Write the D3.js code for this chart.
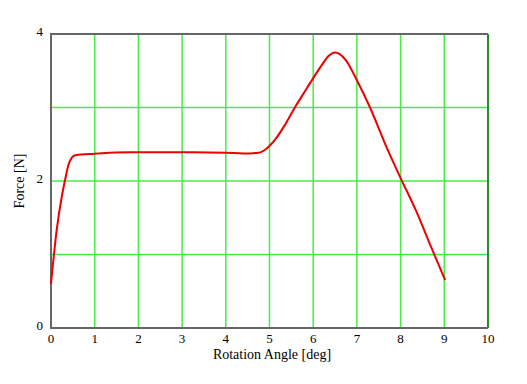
<!DOCTYPE html>
<html><head><meta charset="utf-8">
<script src="https://cdn.jsdelivr.net/npm/d3@7"></script>
<style>body{margin:0;background:#fff}svg{display:block}</style>
</head><body>
<svg id="c" width="527" height="384"></svg>
<script>
const angle = [0,0.13,0.25,0.32,0.40,0.48,0.56,1.0,1.8,3.0,4.0,4.4,4.75,4.95,5.15,5.35,5.55,5.8,6.0,6.2,6.35,6.5,6.6,6.75,7.0,7.3,7.7,8.0,8.35,8.7,9.02];
const force = [0.6,1.33,1.8,2.01,2.22,2.32,2.35,2.37,2.39,2.39,2.385,2.375,2.385,2.45,2.58,2.76,2.97,3.21,3.40,3.58,3.70,3.75,3.73,3.64,3.37,3.0,2.43,2.04,1.6,1.1,0.65];
const xTicks = [0,1,2,3,4,5,6,7,8,9,10];
const yTicks = [0,2,4];
const yGrid = [1,2,3];
const xLabel = "Rotation Angle [deg]";
const yLabel = "Force [N]";

const svg = d3.select("#c");
const L=51,R=488,T=34,B=328;
const x = d3.scaleLinear().domain([0,10]).range([L,R]);
const y = d3.scaleLinear().domain([0,4]).range([B,T]);
const font = "'Liberation Serif','Times New Roman',serif";

// grid
svg.append("g").selectAll("line").data(xTicks.filter(d=>d>0&&d<10)).join("line")
  .attr("x1",d=>x(d)).attr("x2",d=>x(d)).attr("y1",T).attr("y2",B)
  .attr("stroke","#44ee44").attr("stroke-width",1.5);
svg.append("g").selectAll("line").data(yGrid).join("line")
  .attr("x1",L).attr("x2",R).attr("y1",d=>y(d)).attr("y2",d=>y(d))
  .attr("stroke","#44ee44").attr("stroke-width",1.5);

// frame
svg.append("line").attr("x1",x(10)).attr("x2",x(10)).attr("y1",T).attr("y2",B)
  .attr("stroke","#2a8a2a").attr("stroke-width",2);
svg.append("line").attr("x1",L).attr("x2",R).attr("y1",T).attr("y2",T).attr("stroke","#666").attr("stroke-width",2);
svg.append("line").attr("x1",L).attr("x2",R).attr("y1",B).attr("y2",B).attr("stroke","#666").attr("stroke-width",2);
svg.append("line").attr("x1",L).attr("x2",L).attr("y1",T-1).attr("y2",B+1).attr("stroke","#666").attr("stroke-width",2);

// curve
const pts = angle.map((a,i)=>[a,force[i]]);
svg.append("path").datum(pts)
  .attr("d", d3.line().x(d=>x(d[0])).y(d=>y(d[1])).curve(d3.curveMonotoneX))
  .attr("fill","none").attr("stroke","#ee0000").attr("stroke-width",2);

// tick labels
svg.append("g").selectAll("text").data(xTicks).join("text")
  .attr("x",d=>x(d)).attr("y",B+15).attr("text-anchor","middle")
  .attr("font-family",font).attr("font-size",13).attr("fill","#000").text(d=>d);
svg.append("g").selectAll("text").data(yTicks).join("text")
  .attr("x",L-8).attr("y",d=>y(d)+2).attr("text-anchor","end")
  .attr("font-family",font).attr("font-size",13).attr("fill","#000").text(d=>d);

// axis titles
svg.append("text").attr("x",272).attr("y",359).attr("text-anchor","middle")
  .attr("font-family",font).attr("font-size",14).attr("fill","#000").text(xLabel);
svg.append("text").attr("transform","translate(24,181) rotate(-90)").attr("text-anchor","middle")
  .attr("font-family",font).attr("font-size",14).attr("fill","#000").text(yLabel);
</script>
</body></html>
